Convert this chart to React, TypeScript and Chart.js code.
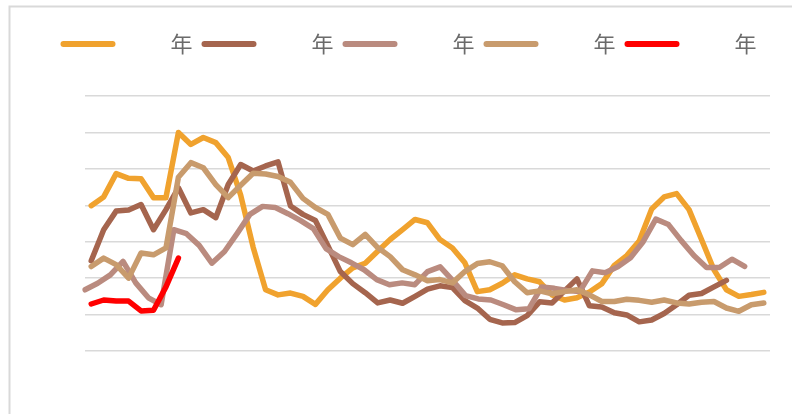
import React, { useEffect, useRef } from 'react';
import { Chart, registerables } from 'chart.js';

Chart.register(...registerables);

// Category axis for the main series (55 periods)
const periods = [
  '1', '2', '3', '4', '5', '6', '7', '8', '9', '10',
  '11', '12', '13', '14', '15', '16', '17', '18', '19', '20',
  '21', '22', '23', '24', '25', '26', '27', '28', '29', '30',
  '31', '32', '33', '34', '35', '36', '37', '38', '39', '40',
  '41', '42', '43', '44', '45', '46', '47', '48', '49', '50',
  '51', '52', '53', '54', '55',
];
// Secondary category axis (used by the third series)
const periodsAlt = [
  '1', '2', '3', '4', '5', '6', '7', '8', '9', '10',
  '11', '12', '13', '14', '15', '16', '17', '18', '19', '20',
  '21', '22', '23', '24', '25', '26', '27', '28', '29', '30',
  '31', '32', '33', '34', '35', '36', '37', '38', '39', '40',
  '41', '42', '43', '44', '45', '46', '47', '48', '49', '50',
  '51', '52', '53', '54', '55',
];

const seriesNames = ['年', '年', '年', '年', '年'];
const seriesColors = ['#F0A22E', '#A5654E', '#BA8B7F', '#C89B6D', '#FF0000'];

const yTicks = [0, 1, 2, 3, 4, 5, 6, 7];

const series1 = [
  3.99, 4.23, 4.87, 4.74, 4.73, 4.21, 4.21, 6.0, 5.67, 5.86,
  5.72, 5.31, 4.28, 2.85, 1.68, 1.54, 1.59, 1.5, 1.28, 1.68,
  2.0, 2.28, 2.41, 2.74, 3.06, 3.33, 3.61, 3.52, 3.06, 2.83,
  2.42, 1.63, 1.68, 1.86, 2.09, 1.98, 1.9, 1.54, 1.4, 1.46,
  1.62, 1.85, 2.35, 2.62, 3.02, 3.9, 4.23, 4.32, 3.88, 3.06,
  2.23, 1.68, 1.5, 1.55, 1.61,
];
const series2 = [
  2.48, 3.33, 3.84, 3.87, 4.02, 3.33, 3.88, 4.48, 3.79, 3.88,
  3.66, 4.57, 5.12, 4.94, 5.08, 5.19, 3.98, 3.75, 3.58, 2.89,
  2.18, 1.85, 1.6, 1.32, 1.4, 1.31, 1.5, 1.7, 1.79, 1.74,
  1.38, 1.18, 0.87, 0.77, 0.78, 0.97, 1.35, 1.32, 1.65, 1.98,
  1.24, 1.21, 1.05, 0.99, 0.8, 0.85, 1.03, 1.27, 1.53, 1.58,
  1.76, 1.94,
];
const series3 = [
  1.68, 1.86, 2.09, 2.46, 1.87, 1.46, 1.27, 3.33, 3.22, 2.9,
  2.41, 2.73, 3.23, 3.75, 3.97, 3.94, 3.77, 3.58, 3.36, 2.81,
  2.59, 2.42, 2.23, 1.96, 1.82, 1.87, 1.82, 2.18, 2.31, 1.93,
  1.52, 1.43, 1.4, 1.27, 1.13, 1.16, 1.76, 1.72, 1.66, 1.63,
  2.2, 2.15, 2.31, 2.56, 3.0, 3.62, 3.47, 3.03, 2.62, 2.29,
  2.29, 2.52, 2.32,
];
const series4 = [
  2.32, 2.55, 2.37, 2.0, 2.69, 2.64, 2.83, 4.77, 5.17, 5.03,
  4.57, 4.21, 4.55, 4.88, 4.86, 4.79, 4.63, 4.19, 3.94, 3.75,
  3.1, 2.92, 3.2, 2.84, 2.59, 2.23, 2.09, 1.93, 1.96, 1.87,
  2.18, 2.4, 2.45, 2.34, 1.9, 1.6, 1.65, 1.57, 1.63, 1.68,
  1.54, 1.36, 1.36, 1.42, 1.39, 1.34, 1.4, 1.32, 1.29, 1.34,
  1.36, 1.18, 1.09, 1.27, 1.32,
];
const series5 = [1.29, 1.4, 1.37, 1.37, 1.1, 1.12, 1.76, 2.55];

export default function App() {
  const canvasRef = useRef<HTMLCanvasElement | null>(null);

  useEffect(() => {
    if (!canvasRef.current) return;

    const legendSpacer = {
      id: 'legendSpacer',
      beforeLayout(chart: any) {
        const lg = chart.legend;
        if (lg && !lg.__spaced) {
          const orig = lg.fit;
          lg.fit = function () {
            this.maxWidth += 60;
            orig.call(this);
            this.height += 31;
          };
          lg.__spaced = true;
        }
      },
    };

    const frame = {
      id: 'frame',
      beforeDraw(chart: any) {
        const c = chart.ctx;
        c.save();
        c.strokeStyle = '#d9d9d9';
        c.lineWidth = 2;
        c.beginPath();
        c.moveTo(9.5, chart.height);
        c.lineTo(9.5, 6.5);
        c.lineTo(chart.width, 6.5);
        c.stroke();
        c.restore();
      },
    };

    const all = [series1, series2, series3, series4, series5];
    const datasets = all.map((d, i) => ({
      label: seriesNames[i],
      data: d,
      borderColor: seriesColors[i],
      backgroundColor: seriesColors[i],
      borderWidth: 5.5,
      pointRadius: 0,
      pointHoverRadius: 0,
      tension: 0,
      fill: false,
      borderJoinStyle: 'round' as const,
      borderCapStyle: 'round' as const,
      xAxisID: i === 2 ? 'x2' : 'x',
      order: 5 - i,
    }));

    const chart = new Chart(canvasRef.current, {
      type: 'line',
      data: { labels: periods, datasets },
      plugins: [legendSpacer, frame],
      options: {
        animation: false,
        responsive: true,
        maintainAspectRatio: false,
        events: [],
        layout: { padding: { top: 24, bottom: 63, left: 47, right: 22 } },
        scales: {
          x: {
            type: 'category',
            labels: periods,
            offset: true,
            display: false,
          },
          x2: {
            type: 'category',
            labels: periodsAlt,
            offset: false,
            display: false,
          },
          y: {
            min: yTicks[0],
            max: yTicks[yTicks.length - 1],
            ticks: { stepSize: 1, display: false },
            grid: { color: '#d9d9d9', lineWidth: 1.5, drawTicks: false },
            border: { display: false },
            afterFit(scale: any) {
              scale.width = 38;
            },
          },
        },
        plugins: {
          tooltip: { enabled: false },
          legend: {
            position: 'top',
            labels: {
              boxWidth: 55,
              boxHeight: 6,
              padding: 9,
              color: '#6b6b6b',
              font: { family: '"Noto Sans CJK SC", sans-serif', size: 22 },
              generateLabels: (ch: any) =>
                ch.data.datasets.map((ds: any, i: number) => ({
                  text: '\u3000\u3000' + ds.label,
                  fillStyle: ds.borderColor,
                  strokeStyle: ds.borderColor,
                  fontColor: '#6b6b6b',
                  lineWidth: 0,
                  borderRadius: 3,
                  datasetIndex: i,
                  hidden: false,
                })),
            },
          },
        },
      },
    });

    return () => chart.destroy();
  }, []);

  return (
    <div
      style={{
        position: 'fixed',
        left: 0,
        top: 0,
        width: 792,
        height: 414,
        background: '#fff',
      }}
    >
      <canvas ref={canvasRef} />
    </div>
  );
}
